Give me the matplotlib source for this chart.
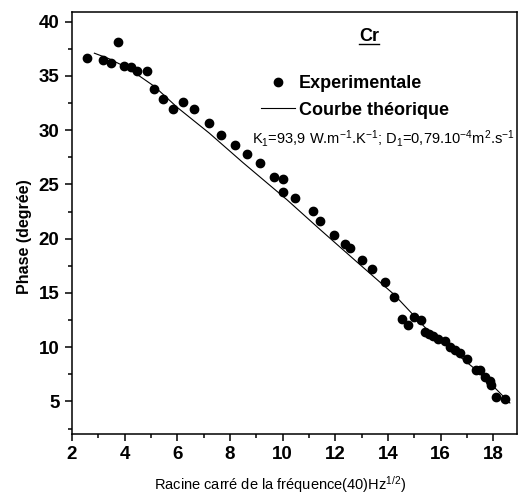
import matplotlib
matplotlib.use("Agg")
import matplotlib.pyplot as plt
from matplotlib.ticker import MultipleLocator
from matplotlib.lines import Line2D

plt.rcParams['font.family'] = ['Liberation Sans', 'DejaVu Sans']
plt.rcParams['mathtext.fontset'] = 'custom'
plt.rcParams['mathtext.rm'] = 'Liberation Sans'
plt.rcParams['mathtext.it'] = 'Liberation Sans:italic'
plt.rcParams['mathtext.bf'] = 'Liberation Sans:bold'

# experimental points
x_exp = [2.58, 3.19, 3.47, 3.74, 3.98, 4.24, 4.46, 4.84, 5.13, 5.47, 5.85, 6.23,
         6.65, 7.20, 7.65, 8.21, 8.65, 9.14, 9.69, 10.02, 10.02, 10.48, 11.14,
         11.43, 11.96, 12.38, 12.57, 13.03, 13.38, 13.88, 14.24, 14.52, 14.75,
         15.00, 15.24, 15.42, 15.57, 15.71, 15.90, 16.18, 16.35, 16.56, 16.75,
         16.99, 17.33, 17.50, 17.70, 17.87, 17.92, 18.10, 18.43]
y_exp = [36.65, 36.43, 36.20, 38.16, 35.94, 35.85, 35.45, 35.45, 33.80, 32.84,
         31.92, 32.56, 31.92, 30.63, 29.56, 28.66, 27.77, 26.94, 25.65, 25.47,
         24.33, 23.78, 22.55, 21.60, 20.37, 19.47, 19.10, 18.04, 17.20, 16.04,
         14.63, 12.56, 12.05, 12.78, 12.47, 11.40, 11.22, 11.06, 10.76, 10.54,
         10.05, 9.74, 9.43, 8.91, 7.93, 7.87, 7.25, 6.85, 6.52, 5.44, 5.19]

# theoretical curve
x_th = [2.85, 3.40, 3.98, 4.50, 5.13, 6.00, 7.21, 8.50, 10.16, 11.43, 12.80,
        14.24, 15.49, 16.40, 17.26, 18.00, 18.63]
y_th = [37.10, 36.60, 35.90, 35.10, 34.04, 32.10, 29.74, 27.00, 23.60, 20.83,
        17.90, 14.84, 11.61, 9.80, 8.08, 6.40, 4.86]

fig = plt.figure(figsize=(5.19, 4.99), dpi=100)
ax = fig.add_axes([0.1387, 0.1303, 0.8574, 0.8457])

ax.plot(x_th, y_th, color='black', lw=0.8)
ax.plot(x_exp, y_exp, 'o', color='black', ms=6)

ax.set_xlim(2, 18.9)
ax.set_ylim(2, 40.9)
ax.xaxis.set_major_locator(MultipleLocator(2))
ax.xaxis.set_minor_locator(MultipleLocator(1))
ax.yaxis.set_major_locator(MultipleLocator(5))
ax.yaxis.set_minor_locator(MultipleLocator(2.5))
ax.tick_params(which='major', direction='out', length=5, width=1.1,
               labelsize=13.5, pad=4)
ax.tick_params(which='minor', direction='out', length=3, width=1.1)
for lab in ax.get_xticklabels() + ax.get_yticklabels():
    lab.set_fontweight('bold')
for sp in ax.spines.values():
    sp.set_linewidth(1.1)

ax.set_ylabel('Phase (degrée)', fontsize=11.5, fontweight='bold')
ax.yaxis.set_label_coords(-0.09, 0.467)
ax.set_xlabel('Racine carré de la fréquence(40)Hz$^{1/2}$)', fontsize=10.5)
ax.xaxis.set_label_coords(0.467, -0.095)

handles = [Line2D([], [], marker='o', ls='none', color='black', ms=6),
           Line2D([], [], color='black', lw=0.8)]
ax.legend(handles, ['Experimentale', 'Courbe théorique'], frameon=False,
          loc='upper left', bbox_to_anchor=(0.425, 0.85),
          prop={'weight': 'bold', 'size': 13}, handlelength=1.9,
          handletextpad=0.2, labelspacing=0.52, borderpad=0, borderaxespad=0)

t = ax.text(0.667, 0.942, 'Cr', transform=ax.transAxes, ha='center',
            va='center', fontsize=13, fontweight='bold')
fig.canvas.draw()
bb = t.get_window_extent().transformed(fig.transFigure.inverted())
fig.add_artist(Line2D([bb.x0, bb.x1], [bb.y0 + 0.001, bb.y0 + 0.001],
                      color='black', lw=1.0, transform=fig.transFigure))

ax.text(0.405, 0.701,
        'K$_1$=93,9 W.m$^{-1}$.K$^{-1}$; D$_1$=0,79.10$^{-4}$m$^2$.s$^{-1}$',
        transform=ax.transAxes, ha='left', va='center', fontsize=10.5)

fig.savefig('out.png', dpi=100)
